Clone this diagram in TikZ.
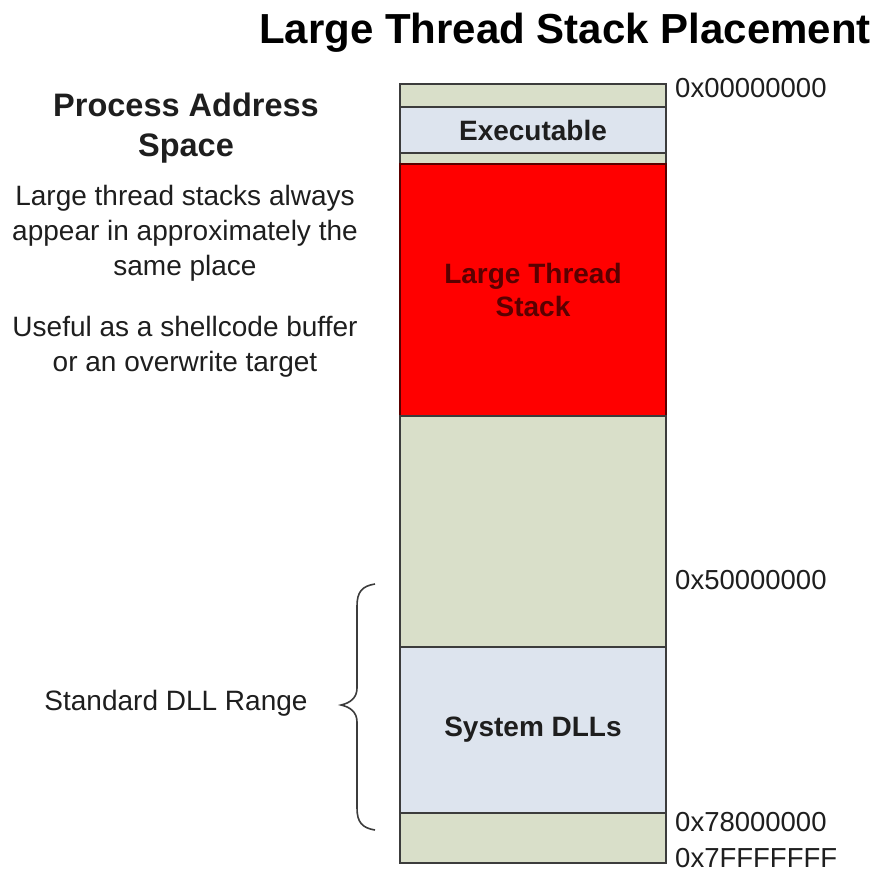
\documentclass[tikz,border=0pt]{standalone}
\usepackage{fontspec}
\setmainfont{Liberation Sans}
\definecolor{beige}{HTML}{D9DFC9}
\definecolor{paleblue}{HTML}{DDE4EE}
\definecolor{edge}{HTML}{3C3C3C}
\definecolor{txt}{HTML}{1E1E1E}
\definecolor{darkred}{HTML}{5A0000}
\begin{document}
\begin{tikzpicture}[x=1pt,y=-1pt,
  seg/.style={draw=edge, line width=1.4pt, minimum width=266pt, inner sep=0pt, outer sep=0pt},
  segtext/.style={font=\fontsize{28}{33}\selectfont\bfseries, text=txt},
  addr/.style={anchor=west, font=\fontsize{27.5}{30}\selectfont, text=txt, inner sep=0pt},
  body/.style={align=center, font=\fontsize{28}{35}\selectfont, text=txt}]
\useasboundingbox (0,0) rectangle (877,872);
\node[font=\fontsize{42}{46}\selectfont\bfseries] (title) at (565,33) {Large Thread Stack Placement};
\node[seg, fill=beige, minimum height=23pt] (s1) at (533,95.5) {};
\node[seg, fill=paleblue, minimum height=46pt, segtext] (exe) at (533,130) {Executable};
\node[seg, fill=beige, minimum height=11pt] (s2) at (533,158.5) {};
\node[seg, fill=red, draw=darkred, minimum height=252pt, segtext, text=darkred, align=center] (lts) at (533,290) {Large Thread\\Stack};
\node[seg, fill=beige, minimum height=231pt] (s3) at (533,531.5) {};
\node[seg, fill=paleblue, minimum height=166pt, segtext] (dll) at (533,730) {System DLLs};
\node[seg, fill=beige, minimum height=50pt] (s4) at (533,838) {};
\node[addr] (a0) at (675,88) {0x00000000};
\node[addr] (a5) at (675,580) {0x50000000};
\node[addr] (a78) at (675,822) {0x78000000};
\node[addr] (a7f) at (675,858) {0x7FFFFFFF};
\node[align=center, font=\fontsize{32.5}{40}\selectfont\bfseries, text=txt] (pas) at (186,128) {Process Address\\Space};
\node[body] (p1) at (185,233) {Large thread stacks always\\appear in approximately the\\same place};
\node[body] (p2) at (185,347) {Useful as a shellcode buffer\\or an overwrite target};
\node[font=\fontsize{28}{32}\selectfont, text=txt] (sdr) at (176,703) {Standard DLL Range};
\draw[edge, line width=1.6pt] (375,584) .. controls (362,586) and (357,592) .. (357,606)
  -- (357,688) .. controls (357,698) and (350,703) .. (341,705)
  .. controls (350,707) and (357,712) .. (357,722)
  -- (357,808) .. controls (357,822) and (362,828) .. (375,830);
\end{tikzpicture}
\end{document}
